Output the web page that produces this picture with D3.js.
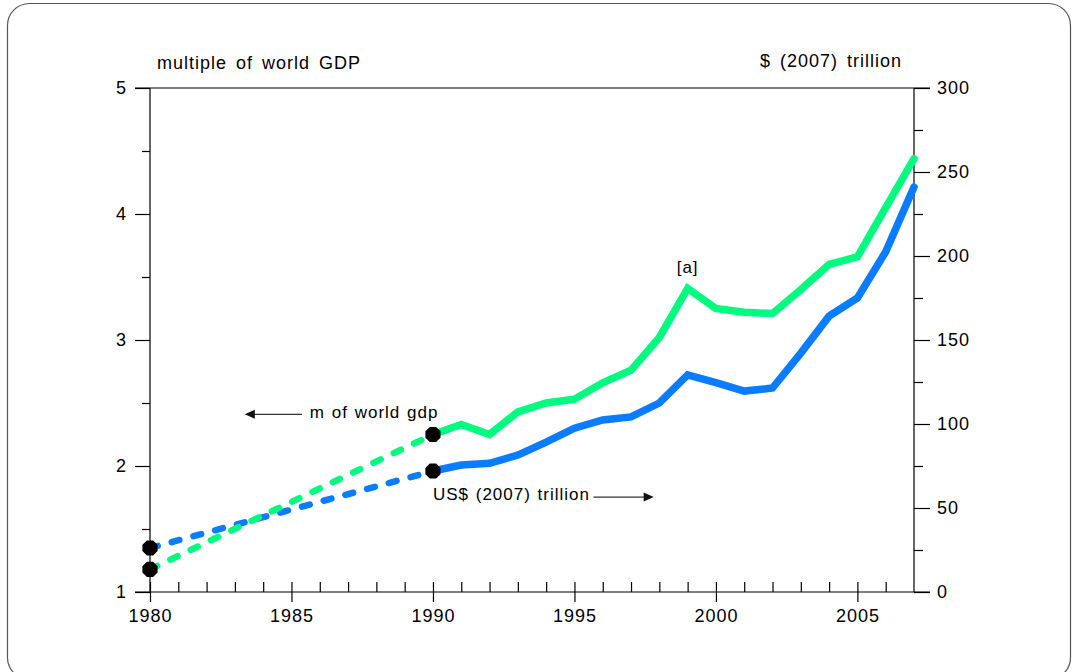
<!DOCTYPE html>
<html>
<head>
<meta charset="utf-8">
<script src="https://cdn.jsdelivr.net/npm/d3@7/dist/d3.min.js"></script>
<style>
  html, body { margin: 0; padding: 0; background: #fff; }
  svg { display: block; }
  text { font-family: "Liberation Sans", Arial, Helvetica, sans-serif; fill: #000; letter-spacing: 1px; word-spacing: 3px; }
  text.ann { word-spacing: 1px; }
</style>
</head>
<body>
<svg id="chart" width="1072" height="672"></svg>
<script>
// ---- data ----
const years = [1990, 1991, 1992, 1993, 1994, 1995, 1996, 1997, 1998, 1999, 2000, 2001, 2002, 2003, 2004, 2005, 2006, 2007];
const gdpMultiple = [2.25, 2.33, 2.25, 2.43, 2.50, 2.53, 2.66, 2.76, 3.02, 3.41, 3.25, 3.22, 3.21, 3.40, 3.60, 3.66, 4.05, 4.44];
const trillions = [72, 75.6, 76.6, 81.5, 89.2, 97.5, 102.4, 104.2, 112.5, 129.2, 124.6, 119.6, 121.4, 142.2, 164.2, 175.0, 202.5, 241];
const earlyYears = [1980, 1990];
const earlyMultiple = [1.18, 2.25];
const earlyTrillions = [26.2, 72];
const xMajorTicks = [1980, 1985, 1990, 1995, 2000, 2005];
const xMinorTicks = d3.range(1980, 2007);
const leftTicks = [1, 2, 3, 4, 5];
const leftMinor = [1.5, 2.5, 3.5, 4.5];
const rightTicks = [0, 50, 100, 150, 200, 250, 300];
const rightMinor = [25, 75, 125, 175, 225, 275];
const leftTitle = "multiple of world GDP";
const rightTitle = "$ (2007) trillion";
const gdpLabel = "m of world gdp";
const usdLabel = "US$ (2007) trillion";
const noteLabel = "[a]";

const green = "#00fa80";
const blue = "#0a7cff";

const svg = d3.select("#chart");

// frame
svg.append("rect")
  .attr("x", 7.5).attr("y", 3.5)
  .attr("width", 1063).attr("height", 676)
  .attr("rx", 22).attr("ry", 22)
  .attr("fill", "none").attr("stroke", "#555").attr("stroke-width", 1.2);

const x = d3.scaleLinear().domain([1980, 2007]).range([150, 914]);
const yL = d3.scaleLinear().domain([1, 5]).range([592, 88]);
const yR = d3.scaleLinear().domain([0, 300]).range([592, 88]);

const axisStyle = g => {
  g.select(".domain").remove();
  g.selectAll("line").attr("stroke", "#000").attr("stroke-width", 1.2);
  g.selectAll("text").attr("font-size", 18).attr("fill", "#000");
};

// left axis
svg.append("g").attr("transform", "translate(150,0)")
  .call(d3.axisLeft(yL).tickValues(leftTicks).tickFormat(d3.format("d")).tickSize(15).tickPadding(8))
  .call(axisStyle);
svg.append("g").attr("transform", "translate(150,0)")
  .call(d3.axisLeft(yL).tickValues(leftMinor).tickFormat("").tickSize(8))
  .call(axisStyle);

// right axis
svg.append("g").attr("transform", "translate(914,0)")
  .call(d3.axisRight(yR).tickValues(rightTicks).tickFormat(d3.format("d")).tickSize(16).tickPadding(7))
  .call(axisStyle);
svg.append("g").attr("transform", "translate(914,0)")
  .call(d3.axisRight(yR).tickValues(rightMinor).tickFormat("").tickSize(9))
  .call(axisStyle);

// bottom axis
svg.append("g").attr("transform", "translate(0,592)")
  .call(d3.axisBottom(x).tickValues(xMajorTicks).tickFormat(d3.format("d")).tickSize(10).tickPadding(7))
  .call(axisStyle);
svg.append("g").attr("transform", "translate(0,592)")
  .call(d3.axisTop(x).tickValues(xMinorTicks).tickFormat("").tickSize(10))
  .call(axisStyle);

// frame lines of plot
const lines = [
  [135, yL(1), 930, yL(1)],
  [135, yL(5), 930, yL(5)],
  [x(1980), yL(1), x(1980), yL(5)],
  [x(2007), yL(1), x(2007), yL(5)]
];
svg.selectAll("line.frame").data(lines).join("line")
  .attr("class", "frame")
  .attr("x1", d => d[0]).attr("y1", d => d[1])
  .attr("x2", d => d[2]).attr("y2", d => d[3])
  .attr("stroke", "#000").attr("stroke-width", 1.2);

// titles
svg.append("text").attr("x", 157).attr("y", 69).attr("font-size", 18).text(leftTitle);
svg.append("text").attr("x", 902).attr("y", 67).attr("font-size", 18).attr("text-anchor", "end").text(rightTitle);

// dashed early segments
const lineL = d3.line().x(d => x(d[0])).y(d => yL(d[1]));
const lineR = d3.line().x(d => x(d[0])).y(d => yR(d[1]));

svg.append("path")
  .attr("d", lineR(earlyYears.map((y, i) => [y, earlyTrillions[i]])))
  .attr("fill", "none").attr("stroke", blue).attr("stroke-width", 6.5)
  .attr("stroke-linecap", "round").attr("stroke-dasharray", "8,14.5");
svg.append("path")
  .attr("d", lineL(earlyYears.map((y, i) => [y, earlyMultiple[i]])))
  .attr("fill", "none").attr("stroke", green).attr("stroke-width", 6.5)
  .attr("stroke-linecap", "round").attr("stroke-dasharray", "8,14.5");

// solid lines
svg.append("path")
  .attr("d", lineR(years.map((y, i) => [y, trillions[i]])))
  .attr("fill", "none").attr("stroke", blue).attr("stroke-width", 7.5)
  .attr("stroke-linecap", "round").attr("stroke-linejoin", "miter");
svg.append("path")
  .attr("d", lineL(years.map((y, i) => [y, gdpMultiple[i]])))
  .attr("fill", "none").attr("stroke", green).attr("stroke-width", 7.5)
  .attr("stroke-linecap", "round").attr("stroke-linejoin", "miter");

// markers
const markers = [
  [x(1980), yR(earlyTrillions[0])],
  [x(1980), yL(earlyMultiple[0])],
  [x(1990), yL(earlyMultiple[1])],
  [x(1990), yR(earlyTrillions[1])]
];
const oct = d3.range(8).map(i => {
  const a = Math.PI / 8 + i * Math.PI / 4;
  return [8.2 * Math.cos(a), 8.2 * Math.sin(a)];
});
svg.selectAll("path.marker").data(markers).join("path")
  .attr("class", "marker")
  .attr("transform", d => `translate(${d[0]},${d[1]})`)
  .attr("d", "M" + oct.map(p => p.join(",")).join("L") + "Z")
  .attr("fill", "#000");

// annotations
const arrowHead = (g, tipX, tipY, dir) => {
  g.append("path")
    .attr("d", `M${tipX},${tipY} L${tipX - dir * 10},${tipY - 4.5} L${tipX - dir * 10},${tipY + 4.5} Z`)
    .attr("fill", "#111");
};
const ann = svg.append("g");
// m of world gdp (pointing left)
const gY = yL(2.41);
ann.append("line").attr("x1", x(1985.37)).attr("x2", x(1983.5)).attr("y1", gY).attr("y2", gY)
  .attr("stroke", "#333").attr("stroke-width", 1.3);
arrowHead(ann, x(1983.35), gY, -1);
ann.append("text").attr("class", "ann").attr("x", x(1985.65)).attr("y", gY + 4).attr("font-size", 17).text(gdpLabel);

// US$ (2007) trillion (pointing right)
const uY = yR(56.5);
ann.append("text").attr("class", "ann").attr("x", x(1990)).attr("y", uY + 3).attr("font-size", 17).text(usdLabel);
ann.append("line").attr("x1", x(1995.67)).attr("x2", x(1997.6)).attr("y1", uY).attr("y2", uY)
  .attr("stroke", "#333").attr("stroke-width", 1.3);
arrowHead(ann, x(1997.8), uY, 1);

// [a]
ann.append("text").attr("class", "ann").attr("x", x(1999)).attr("y", yL(gdpMultiple[9]) - 15)
  .attr("text-anchor", "middle").attr("font-size", 17).text(noteLabel);
</script>
</body>
</html>
